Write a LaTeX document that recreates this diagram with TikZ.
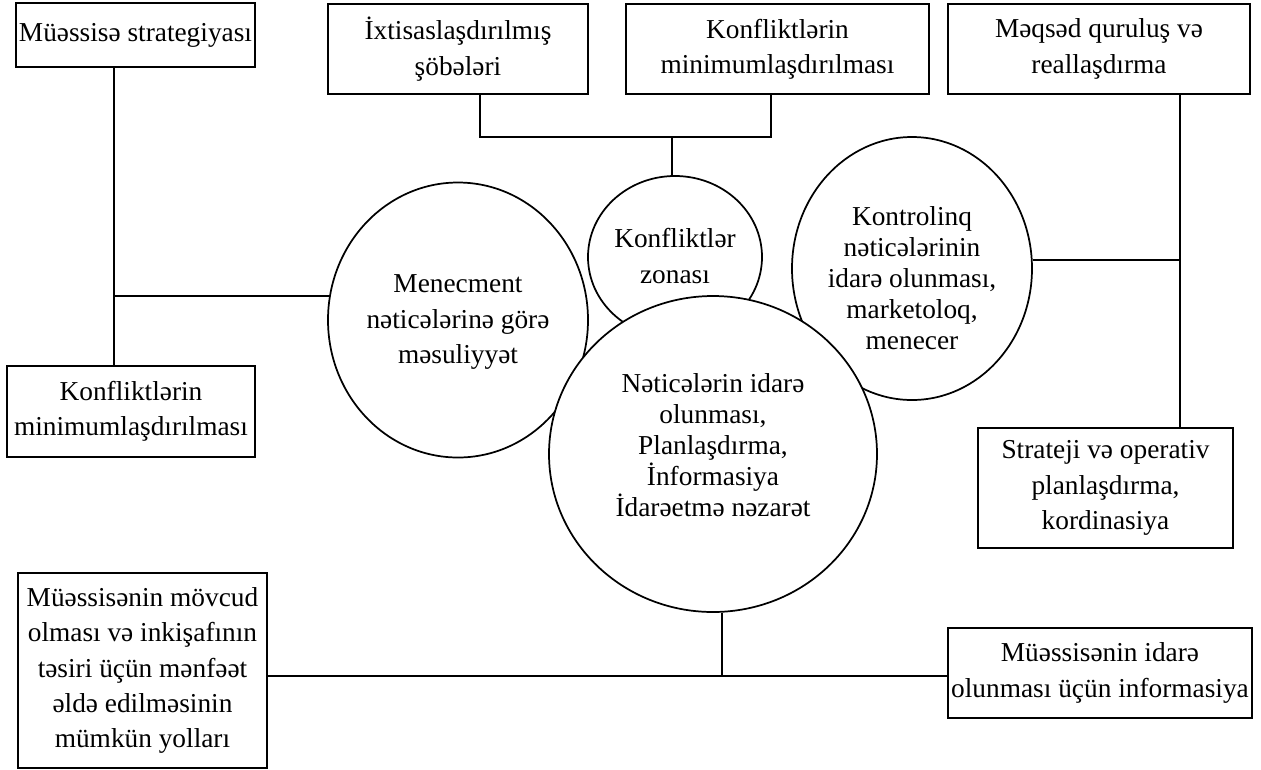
\documentclass[tikz,border=0pt]{standalone}
\usepackage{fontspec}
\setmainfont{Liberation Serif}
\usetikzlibrary{shapes.geometric,calc}
\begin{document}
\begin{tikzpicture}[x=0.75pt,y=-0.75pt,line width=1.3pt,
  every node/.style={font=\fontsize{20.5pt}{26.5pt}\selectfont},
  box/.style={draw,rectangle,inner sep=0pt,align=center},
  oval/.style={draw,ellipse,inner sep=0pt,fill=white},
  lbl/.style={inner sep=0pt,align=center}]
\useasboundingbox (0,0) rectangle (1261,769);
% boxes
\node[box,minimum width=239*0.75pt,minimum height=64*0.75pt] (b1) at (135.5,35) {Müəssisə strategiyası};
\node[box,minimum width=260*0.75pt,minimum height=90*0.75pt] (b2) at (458,49) {İxtisaslaşdırılmış\\şöbələri};
\node[box,minimum width=303*0.75pt,minimum height=90*0.75pt] (b3) at (777.5,49) {Konfliktlərin\\minimumlaşdırılması};
\node[box,minimum width=302*0.75pt,minimum height=90*0.75pt] (b4) at (1099,49) {Məqsəd quruluş və\\reallaşdırma};
\node[box,minimum width=248*0.75pt,minimum height=91*0.75pt] (b5) at (131,411.5) {Konfliktlərin\\minimumlaşdırılması};
\node[box,minimum width=255*0.75pt,minimum height=120*0.75pt] (b6) at (1105.5,488) {Strateji və operativ\\planlaşdırma,\\kordinasiya};
\node[box,minimum width=249*0.75pt,minimum height=195*0.75pt] (b7) at (142.5,670.5) {Müəssisənin mövcud\\olması və inkişafının\\təsiri üçün mənfəət\\əldə edilməsinin\\mümkün yolları};
\node[box,minimum width=304*0.75pt,minimum height=90*0.75pt] (b8) at (1100,673) {Müəssisənin idarə\\olunması üçün informasiya};
% ovals
\node[oval,minimum width=260*0.75pt,minimum height=275*0.75pt] (c1) at (458,320) {};
\node[oval,minimum width=174*0.75pt,minimum height=162*0.75pt] (c2) at (675,257) {};
\node[oval,minimum width=240*0.75pt,minimum height=263*0.75pt] (c3) at (912,268.5) {};
\node[oval,minimum width=328*0.75pt,minimum height=316*0.75pt] (c4) at (713,454) {};
% oval texts
\node[lbl,font=\fontsize{20.5pt}{26.6pt}\selectfont] (t1) at (458,322) {Menecment\\nəticələrinə görə\\məsuliyyət};
\node[lbl,font=\fontsize{20.5pt}{27.7pt}\selectfont] (t2) at (675,256) {Konfliktlər\\zonası};
\node[lbl,font=\fontsize{20.5pt}{23.25pt}\selectfont] (t3) at (912,278) {Kontrolinq\\nəticələrinin\\idarə olunması,\\marketoloq,\\menecer};
\node[lbl,font=\fontsize{20.5pt}{23.25pt}\selectfont] (t4) at (713,445) {Nəticələrin idarə\\olunması,\\Planlaşdırma,\\İnformasiya\\İdarəetmə nəzarət};
% connectors
\coordinate (j1) at (114,296);
\draw (b1.south -| j1) -- (b5.north -| j1);
\draw (j1) -- ($(c1.center)+(-128,-24)$);
\coordinate (k1) at (480,137);
\coordinate (k2) at (771,137);
\coordinate (k3) at (672,137);
\draw (b2.south -| k1) -- (k1) -- (k2) -- (b3.south -| k2);
\draw (k3) -- (c2.north -| k3);
\coordinate (m1) at (1180,260);
\draw (b4.south -| m1) -- (b6.north -| m1);
\draw (m1) -- (c3.east |- m1);
\coordinate (n1) at (722,676);
\draw (c4.south -| n1) -- (n1);
\draw (b7.east |- n1) -- (b8.west |- n1);
\end{tikzpicture}
\end{document}
